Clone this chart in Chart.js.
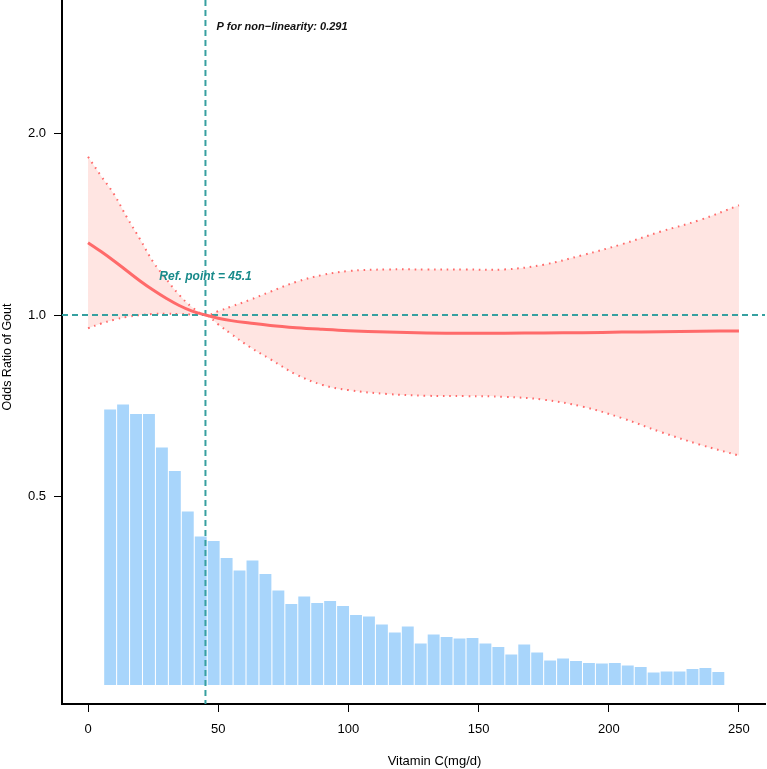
<!DOCTYPE html>
<html><head><meta charset="utf-8">
<script src="https://cdn.jsdelivr.net/npm/chart.js@4/dist/chart.umd.min.js"></script>
<style>html,body{margin:0;padding:0;background:#fff;}</style>
</head><body>
<canvas id="c" width="767" height="769"></canvas>
<script>
// ---- data ----
const vitaminC   = [0,5,10,15,20,25,30,35,40,45.1,50,55,62,70,80,90,100,115,130,145,160,175,190,205,220,235,250];
const oddsRatio  = [1.318,1.274,1.229,1.183,1.139,1.100,1.066,1.037,1.015,1.000,0.988,0.979,0.970,0.961,0.953,0.947,0.942,0.937,0.934,0.933,0.933,0.934,0.935,0.937,0.938,0.940,0.941];
const upperCI    = [1.829,1.700,1.585,1.450,1.335,1.225,1.148,1.080,1.030,1.000,1.015,1.033,1.059,1.093,1.135,1.165,1.183,1.190,1.190,1.190,1.190,1.212,1.257,1.310,1.375,1.437,1.520];
const lowerCI    = [0.951,0.968,0.982,0.993,1.000,1.004,1.005,1.004,1.002,1.000,0.965,0.930,0.886,0.845,0.797,0.766,0.751,0.740,0.735,0.734,0.732,0.724,0.705,0.675,0.640,0.610,0.585];
const histBinCenters = [8.49,13.46,18.43,23.40,28.37,33.34,38.31,43.28,48.25,53.22,58.19,63.16,68.13,73.10,78.07,83.04,88.01,92.98,97.95,102.92,107.89,112.86,117.83,122.80,127.77,132.74,137.71,142.68,147.65,152.62,157.59,162.56,167.53,172.50,177.47,182.44,187.41,192.38,197.35,202.32,207.29,212.26,217.23,222.20,227.17,232.14,237.11,242.08];
const histCounts = [551,561,542,542,475,428,347,297,288,254,229,249,222,189,162,177,164,168,158,140,137,121,105,117,83,101,96,93,94,83,76,61,81,65,49,53,48,44,43,44,39,36,25,27,27,32,34,26];
const xTickValues = [0,50,100,150,200,250];
const yTickValues = [0.5,1,2];
const refPoint = 45.1;
const refOR = 1;
const pLabel = 'P for non\u2212linearity: 0.291';
const refLabel = 'Ref. point = 45.1';
const xTitle = 'Vitamin C(mg/d)';
const yTitle = 'Odds Ratio of Gout';

const FONT = "'Liberation Sans', Arial, Helvetica, sans-serif";
const TEAL_LINE = '#36a0a0';
const TEAL_TEXT = '#188a8a';
const RED = '#ff6a6a';

function pts(ys){ return vitaminC.map((x,i)=>({x:x,y:ys[i]})); }

const refLines = {
  id:'refLines',
  afterDatasetDraw(chart,args){
    if(args.index!==1) return;
    const {ctx,chartArea:a,scales:{x,y}} = chart;
    ctx.save();
    ctx.strokeStyle = TEAL_LINE; ctx.lineWidth = 2; ctx.setLineDash([6,4]);
    const py = y.getPixelForValue(refOR);
    ctx.beginPath(); ctx.moveTo(a.left,py); ctx.lineTo(a.right,py); ctx.stroke();
    const px = x.getPixelForValue(refPoint);
    ctx.beginPath(); ctx.moveTo(px,a.top); ctx.lineTo(px,a.bottom); ctx.stroke();
    ctx.restore();
  },
  afterDraw(chart){
    const {ctx,chartArea:a,scales:{x,y}} = chart;
    const px = x.getPixelForValue(refPoint);
    ctx.save();
    ctx.textBaseline='middle';
    ctx.fillStyle='#111';
    ctx.font = "italic bold 11px "+FONT;
    ctx.textAlign='left';
    ctx.fillText(pLabel, px+11, y.getPixelForValue(3.0));
    ctx.fillStyle=TEAL_TEXT;
    ctx.font = "italic bold 12px "+FONT;
    ctx.textAlign='center';
    ctx.fillText(refLabel, px, y.getPixelForValue(1.156));
    ctx.fillStyle='#000';
    ctx.font = "13px "+FONT;
    ctx.fillText(xTitle, 434.5, 761);
    ctx.translate(7.5,357); ctx.rotate(-Math.PI/2);
    ctx.font = "12.5px "+FONT;
    ctx.fillText(yTitle, 0, 0);
    ctx.restore();
  }
};

new Chart(document.getElementById('c'),{
  type:'line',
  data:{datasets:[
    {label:'OR', data:pts(oddsRatio), borderColor:RED, borderWidth:3, pointRadius:0, tension:0.4, fill:false, xAxisID:'x', yAxisID:'y'},
    {label:'lower', data:pts(lowerCI), borderColor:RED, borderWidth:2, borderDash:[1.6,4.8], pointRadius:0, tension:0.4, fill:false, xAxisID:'x', yAxisID:'y'},
    {label:'upper', data:pts(upperCI), borderColor:RED, borderWidth:2, borderDash:[1.6,4.8], pointRadius:0, tension:0.4, fill:'-1', backgroundColor:'#ffe5e2', xAxisID:'x', yAxisID:'y'},
    {type:'bar', label:'hist', data:histBinCenters.map((c,i)=>({x:c,y:histCounts[i]})), backgroundColor:'#a8d5fb', borderWidth:0, barPercentage:0.92, categoryPercentage:1, xAxisID:'x', yAxisID:'y2'}
  ]},
  options:{
    responsive:false, animation:false, events:[],
    layout:{padding:{top:0,left:0,right:2,bottom:0}},
    plugins:{legend:{display:false}, tooltip:{enabled:false}},
    scales:{
      x:{type:'linear', position:'bottom', min:-10, max:260, offset:false,
         afterBuildTicks(s){ s.ticks = xTickValues.map(v=>({value:v})); },
         afterFit(s){ s.height = 65; },
         ticks:{color:'#000', font:{family:FONT,size:13}, padding:10, maxRotation:0, autoSkip:false, callback:v=>String(v)},
         grid:{drawOnChartArea:false, drawTicks:true, tickLength:8, color:'#000', lineWidth:1, offset:false},
         border:{display:true, color:'#000', width:2}},
      y:{type:'logarithmic', position:'left', min:0.2268, max:3.326,
         afterBuildTicks(s){ s.ticks = yTickValues.map(v=>({value:v})); },
         afterFit(s){ s.width = 62; s.paddingTop = 0; s.paddingBottom = 0; },
         ticks:{color:'#000', font:{family:FONT,size:13}, padding:8, callback:v=>Number(v).toFixed(1)},
         grid:{drawOnChartArea:false, drawTicks:true, tickLength:8, color:'#000', lineWidth:1},
         border:{display:true, color:'#000', width:2}},
      y2:{type:'linear', display:false, min:-38, max:1370}
    }
  },
  plugins:[refLines]
});
</script>
</body></html>
